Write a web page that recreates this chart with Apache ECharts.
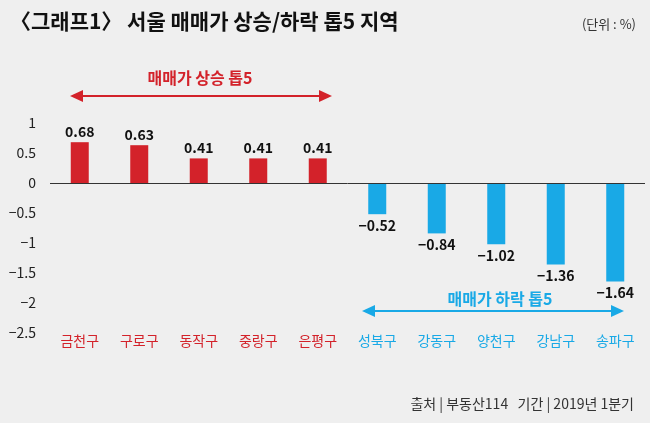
<!DOCTYPE html><html><head><meta charset="utf-8"><script src="https://cdn.jsdelivr.net/npm/echarts@6/dist/echarts.min.js"></script>
<style>body{margin:0;background:#efefef}#c{width:650px;height:423px}</style></head><body><div id="c"></div><script>
const categories=['금천구','구로구','동작구','중랑구','은평구','성북구','강동구','양천구','강남구','송파구'];
const values=[0.68,0.63,0.41,0.41,0.41,-0.52,-0.84,-1.02,-1.36,-1.64];
const yTicks=[1,0.5,0,-0.5,-1,-1.5,-2,-2.5];
const RED='#d3222a',BLUE='#19a9e6',F='"Noto Sans CJK KR","Noto Sans",sans-serif';
const c=echarts.init(document.getElementById('c'));
function arrow(x1,x2,y,col){return [
 {type:'line',shape:{x1:x1+8,y1:y,x2:x2-8,y2:y},style:{stroke:col,lineWidth:2}},
 {type:'polygon',shape:{points:[[x1,y],[x1+13,y-6],[x1+13,y+6]]},style:{fill:col}},
 {type:'polygon',shape:{points:[[x2,y],[x2-13,y-6],[x2-13,y+6]]},style:{fill:col}}];}
c.setOption({backgroundColor:'#efefef',animation:false,
grid:{left:50,width:595,top:123,height:210},
xAxis:{type:'category',data:categories,position:'bottom',axisLine:{show:false},axisTick:{show:false},
 axisLabel:{margin:1,fontFamily:F,fontSize:14,color:(v,i)=>i<5?RED:BLUE},boundaryGap:true},
yAxis:{type:'value',min:-2.5,max:1,interval:0.5,splitLine:{show:false},axisLine:{show:false},axisTick:{show:false},
 axisLabel:{fontFamily:F,fontSize:14,color:'#222',margin:14,formatter:v=>yTicks.includes(v)?String(v).replace('-','−'):''}},
series:[{type:'bar',barWidth:18,data:values.map((v,i)=>({value:v,itemStyle:{color:i<5?RED:BLUE},
 label:{show:true,position:v>=0?'top':'bottom',distance:4,fontFamily:F,fontSize:14,fontWeight:'bold',color:'#111',
 formatter:p=>String(p.value.toFixed(2)).replace('-','−')}})),
 markLine:{silent:true,symbol:'none',label:{show:false},lineStyle:{color:'#333',width:1,type:'solid'},data:[{yAxis:0}]}}],
graphic:[
 {type:'text',left:10,top:11,style:{text:'〈그래프1〉 서울 매매가 상승/하락 톱5 지역',font:'bold 21px '+F,fill:'#111'}},
 {type:'text',right:14,top:18,style:{text:'(단위 : %)',font:'13px '+F,fill:'#333'}},
 {type:'text',x:200,y:78,style:{text:'매매가 상승 톱5',font:'bold 16px '+F,fill:RED,align:'center',verticalAlign:'middle'}},
 ...arrow(70,332,96,RED),
 {type:'text',x:500,y:299,style:{text:'매매가 하락 톱5',font:'bold 16px '+F,fill:BLUE,align:'center',verticalAlign:'middle'}},
 ...arrow(362,624,311,BLUE),
 {type:'text',right:16,top:397,style:{text:'출처 | 부동산114   기간 | 2019년 1분기',font:'14px '+F,fill:'#333'}}
]});
</script></body></html>
